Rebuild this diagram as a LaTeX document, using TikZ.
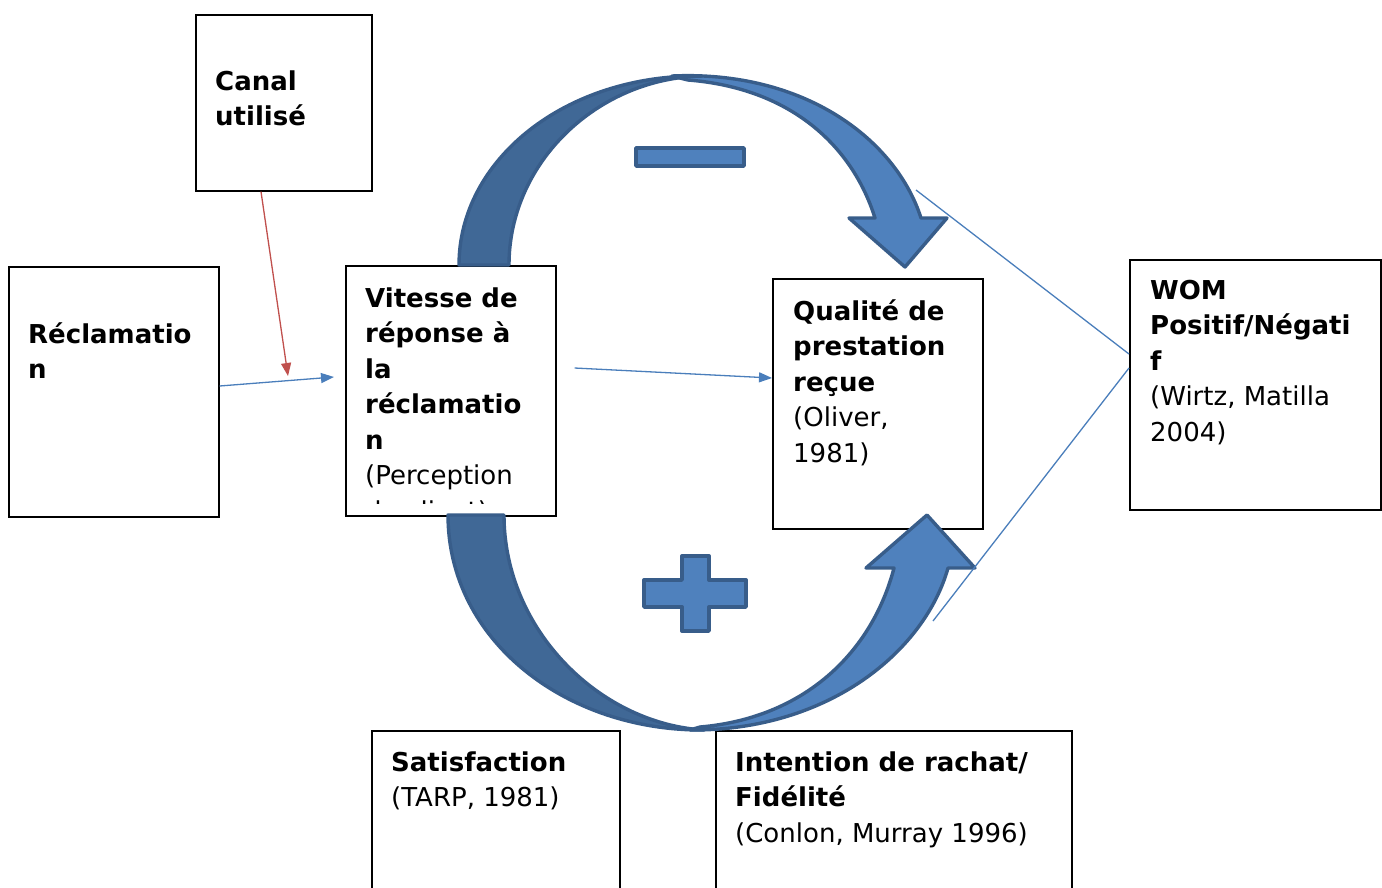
\documentclass[tikz,border=0pt]{standalone}
\usepackage{fontspec}
\setmainfont{DejaVu Sans}
\usetikzlibrary{arrows.meta, positioning, calc}

\definecolor{arcDark}{RGB}{64,104,150}
\definecolor{arcLight}{RGB}{79,129,189}
\definecolor{arcEdge}{RGB}{56,93,138}
\definecolor{linkBlue}{RGB}{74,126,187}
\definecolor{linkRed}{RGB}{192,80,77}

\newcommand{\firstline}{\rule{0pt}{20pt}}

\tikzset{
  box/.style={draw=black, line width=1.6pt, fill=white, inner sep=0pt, anchor=north west},
  boxtext/.style={anchor=north west, inner sep=0pt, align=left, font=\fontsize{26}{35.5}\selectfont},
  link/.style={draw=linkBlue, line width=1.3pt, -{Triangle[length=13pt,width=10pt]}},
  linkred/.style={draw=linkRed, line width=1.3pt, -{Triangle[length=13pt,width=10pt]}},
  plainlink/.style={draw=linkBlue, line width=1.3pt},
  arcback/.style={fill=arcDark, draw=arcEdge, line width=3.4pt, line join=round},
  arcfront/.style={fill=arcLight, draw=arcEdge, line width=3.4pt, line join=round},
}

\begin{document}
\begin{tikzpicture}[x=1pt, y=-1pt]

    \useasboundingbox (0,0) rectangle (1382,887);

    % Boxes
    \node[box, minimum width=176pt, minimum height=176pt] (canal) at (195,14) {};
    \node[box, minimum width=210pt, minimum height=250pt] (recl) at (8,266) {};
    \node[box, minimum width=210pt, minimum height=250pt] (vitesse) at (345,265) {};
    \node[box, minimum width=210pt, minimum height=250pt] (qualite) at (772,278) {};
    \node[box, minimum width=251pt, minimum height=250pt] (wom) at (1129,259) {};
    \node[box, minimum width=248pt, minimum height=200pt] (satis) at (371,730) {};
    \node[box, minimum width=356pt, minimum height=200pt] (intent) at (715,730) {};

    % Upper curved arrow (minus)
    \path[arcfront] (672,76) .. controls (805,70) and (896,140) .. (921,218)
        -- (947,218) -- (905,267) -- (849,218) -- (875,218)
        .. controls (852,145) and (790,88) .. (688,80) -- cycle;
    \path[arcback] (459,265) .. controls (459,160) and (565,74) .. (702,76)
        .. controls (598,78) and (509,162) .. (509,265) -- cycle;
    \path[arcfront] (636,148) rectangle (744,166);

    % Lower curved arrow (plus)
    \path[arcfront] (690,730) .. controls (830,731) and (925,650) .. (948,568)
        -- (975,568) -- (927,515) -- (866,568) -- (894,568)
        .. controls (872,652) and (805,718) .. (700,727) -- cycle;
    \path[arcback] (448,515) .. controls (448,640) and (565,731) .. (704,730)
        .. controls (600,724) and (504,630) .. (504,515) -- cycle;
    \path[arcfront] (682,556) -- (709,556) -- (709,580) -- (746,580) -- (746,607)
        -- (709,607) -- (709,631) -- (682,631) -- (682,607) -- (644,607)
        -- (644,580) -- (682,580) -- cycle;

    % Texts
    \node[boxtext] (canalTxt) at (215,70) {\firstline\textbf{Canal}\\\textbf{utilisé}};
    \node[boxtext] (reclTxt) at (28,322) {\firstline\textbf{Réclamatio}\\\textbf{n}};
    \begin{scope}
        \clip (345,265) rectangle (555,503);
        \node[boxtext] (vitesseTxt) at (365,287) {\firstline\textbf{Vitesse de}\\\textbf{réponse à}\\\textbf{la}\\\textbf{réclamatio}\\\textbf{n}\\(Perception\\du client)};
    \end{scope}
    \node[boxtext] (qualiteTxt) at (793,299) {\firstline\textbf{Qualité de}\\\textbf{prestation}\\\textbf{reçue}\\(Oliver,\\1981)};
    \node[boxtext] (womTxt) at (1150,279) {\firstline\textbf{WOM}\\\textbf{Positif/Négati}\\\textbf{f}\\(Wirtz, Matilla\\2004)};
    \node[boxtext] (satisTxt) at (391,751) {\firstline\textbf{Satisfaction}\\(TARP, 1981)};
    \node[boxtext] (intentTxt) at (735,751) {\firstline\textbf{Intention de rachat/}\\\textbf{Fidélité}\\(Conlon, Murray 1996)};

    % Connectors
    \draw[link] ($(recl.north east)+(0,120)$) -- ($(vitesse.north west)+(-11,112)$);
    \draw[linkred] ($(canal.south west)+(66,0)$) -- ($(vitesse.north west)+(-57,111)$);
    \draw[link] ($(vitesse.north east)+(18,103)$) -- ($(qualite.north west)+(0,100)$);

    \coordinate (headTop) at (916,190);
    \coordinate (headBot) at (933,621);
    \draw[plainlink] (headTop) -- ($(wom.north west)+(0,95)$);
    \draw[plainlink] (headBot) -- ($(wom.north west)+(0,109)$);

\end{tikzpicture}
\end{document}
